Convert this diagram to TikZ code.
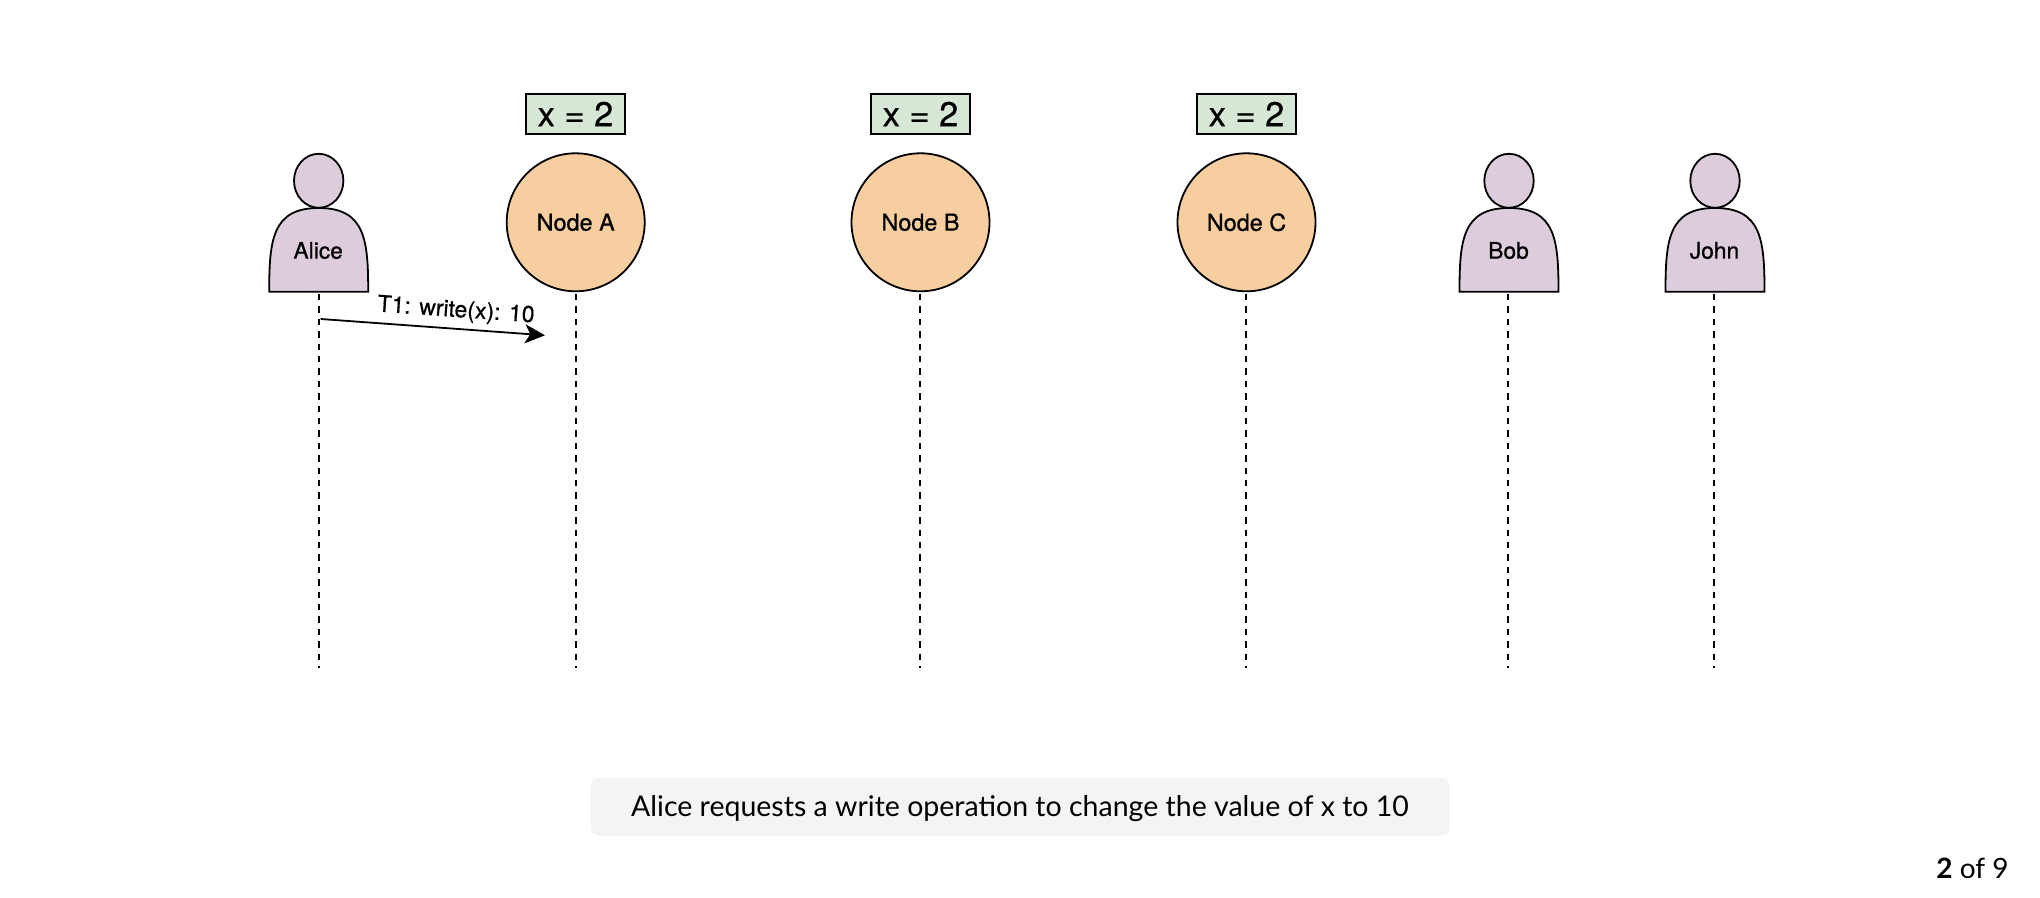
\documentclass[tikz,border=0pt]{standalone}
\usepackage{fontspec}
\setmainfont{TeX Gyre Heros}
\newfontfamily\heavyfont[FakeBold=0.6]{TeX Gyre Heros}
\newfontfamily\capfont{Lato}
\usetikzlibrary{arrows.meta}
\definecolor{actorfill}{HTML}{DDCDDC}
\definecolor{nodefill}{HTML}{F7CE9F}
\definecolor{valfill}{HTML}{D7E7D5}
\definecolor{capfill}{HTML}{F4F4F4}
\tikzset{
  x=0.5pt,y=-0.5pt,
  outline/.style={draw=black,line width=0.9pt},
  head/.style={outline,fill=actorfill},
  lifeline/.style={draw=black,line width=0.95pt,dash pattern=on 3.2pt off 3pt},
  server/.style={circle,outline,fill=nodefill,minimum size=69pt,inner sep=0pt,font=\heavyfont\fontsize{11.7}{14}\selectfont},
  valuebox/.style={rectangle,outline,fill=valfill,minimum width=49.3pt,minimum height=19.7pt,inner sep=0pt,font=\heavyfont\fontsize{17.2}{20}\selectfont},
  personlabel/.style={inner sep=0pt,font=\heavyfont\fontsize{11.4}{14}\selectfont},
  msg/.style={draw=black,line width=0.9pt,-{Stealth[length=10pt,width=9.5pt,inset=2.6pt]}},
}
\newcommand{\person}[4]{% name, centre x, label, lifeline x
  \draw[head] (#2,180.8) ellipse[x radius=24.7,y radius=27];
  \draw[head] (#2-49.5,291.7) .. controls (#2-49.5,240) and (#2-46.5,208) .. (#2,208)
     .. controls (#2+46.5,208) and (#2+49.5,240) .. (#2+49.5,291.7) -- cycle;
  \node[personlabel] (#1) at (#2-0.5,250.5) {#3};
  \coordinate (#1top) at (#4,294);
  \coordinate (#1end) at (#4,668);
  \draw[lifeline] (#1top) -- (#1end);
}
\begin{document}
\begin{tikzpicture}
\useasboundingbox (0,0) rectangle (2040,898);
\person{alice}{318.7}{Alice}{319}
\person{bob}{1509}{Bob}{1508}
\person{john}{1715}{John}{1714}

\node[server] (a) at (575.7,222.3) {Node A};
\node[server] (b) at (920.5,222.3) {Node B};
\node[server] (c) at (1246.5,222.3) {Node C};
\node[valuebox] (va) at (575.5,114) {x = 2};
\node[valuebox] (vb) at (920.5,114) {x = 2};
\node[valuebox] (vc) at (1246.5,114) {x = 2};
\coordinate (atop) at (576,294);
\coordinate (btop) at (920,294);
\coordinate (ctop) at (1246,294);
\coordinate (aend) at (576,668);
\coordinate (bend) at (920,668);
\coordinate (cend) at (1246,668);
\draw[lifeline] (atop) -- (aend);
\draw[lifeline] (btop) -- (bend);
\draw[lifeline] (ctop) -- (cend);

\coordinate (msgfrom) at (320.7,319);
\coordinate (msgto) at (545,335.3);
\draw[msg] (msgfrom) -- (msgto);
\node[inner sep=0pt,rotate=-4,font=\heavyfont\fontsize{11.5}{14}\selectfont] (lbl) at (456,311) {T1: write(x): 10};

\node[rectangle,rounded corners=4pt,fill=capfill,minimum width=429.5pt,minimum height=29pt,inner sep=0pt] (cap) at (1020,806.8) {};
\node[inner sep=0pt,font=\capfont\fontsize{14.25}{18}\selectfont] (captxt) at (1020,808.5) {Alice requests a write operation to change the value of x to 10};
\node[anchor=east,inner sep=0pt,font=\capfont\fontsize{14}{18}\selectfont] (pg) at (2009,868) {\textbf{2} of 9};
\end{tikzpicture}
\end{document}
